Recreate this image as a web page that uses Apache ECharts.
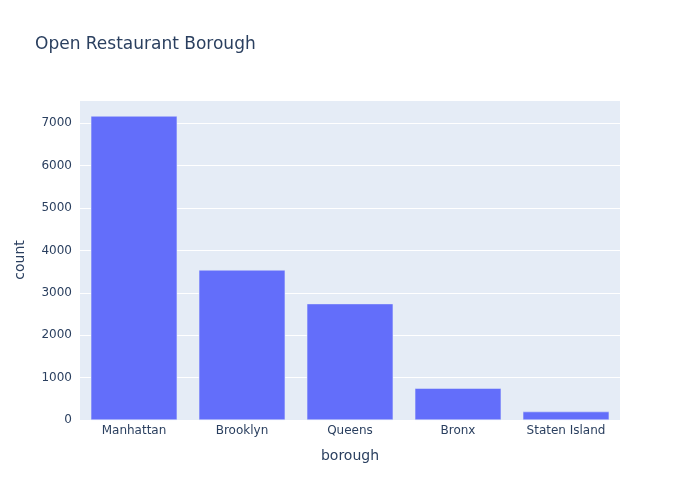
<!DOCTYPE html>
<html>
<head>
<meta charset="utf-8">
<script src="https://cdn.jsdelivr.net/npm/echarts@6/dist/echarts.min.js"></script>
<style>html,body{margin:0;padding:0;background:#fff}#c{width:700px;height:500px}</style>
</head>
<body>
<div id="c"></div>
<script>
var categories = ['Manhattan', 'Brooklyn', 'Queens', 'Bronx', 'Staten Island'];
var counts = [7172, 3540, 2745, 750, 198];
var yTicks = [0, 1000, 2000, 3000, 4000, 5000, 6000, 7000];

var chart = echarts.init(document.getElementById('c'), null, {renderer: 'canvas'});
var font = '"DejaVu Sans", verdana, arial, sans-serif';
chart.setOption({
  animation: false,
  textStyle: {fontFamily: font},
  title: {
    text: 'Open Restaurant Borough',
    left: 35, top: 36, padding: 0,
    textStyle: {fontFamily: font, fontSize: 17, fontWeight: 'normal', color: '#2a3f5f'}
  },
  grid: {
    left: 80, right: 80, top: 100, bottom: 80,
    show: true, backgroundColor: '#E5ECF6', borderWidth: 0
  },
  xAxis: {
    type: 'category',
    data: categories,
    name: 'borough',
    nameLocation: 'middle',
    nameGap: 29,
    nameTextStyle: {fontFamily: font, fontSize: 14, color: '#2a3f5f'},
    axisLine: {show: false},
    axisTick: {show: false},
    axisLabel: {fontFamily: font, fontSize: 12, color: '#2a3f5f', margin: 5},
    splitLine: {show: false}
  },
  yAxis: {
    type: 'value',
    min: 0, max: 7550, interval: 1000,
    name: 'count',
    nameLocation: 'middle',
    nameGap: 53,
    nameTextStyle: {fontFamily: font, fontSize: 14, color: '#2a3f5f'},
    axisLine: {show: false},
    axisTick: {show: false},
    axisLabel: {fontFamily: font, fontSize: 12, color: '#2a3f5f', margin: 8, showMaxLabel: false,
      formatter: function (v) { return yTicks.indexOf(v) >= 0 ? String(v) : ''; }},
    splitLine: {show: true, lineStyle: {color: '#ffffff', width: 1}}
  },
  series: [{
    type: 'bar',
    data: counts,
    barCategoryGap: '20%',
    itemStyle: {color: '#636efa', borderColor: '#E5ECF6', borderWidth: 0.5}
  }]
});
</script>
</body>
</html>
